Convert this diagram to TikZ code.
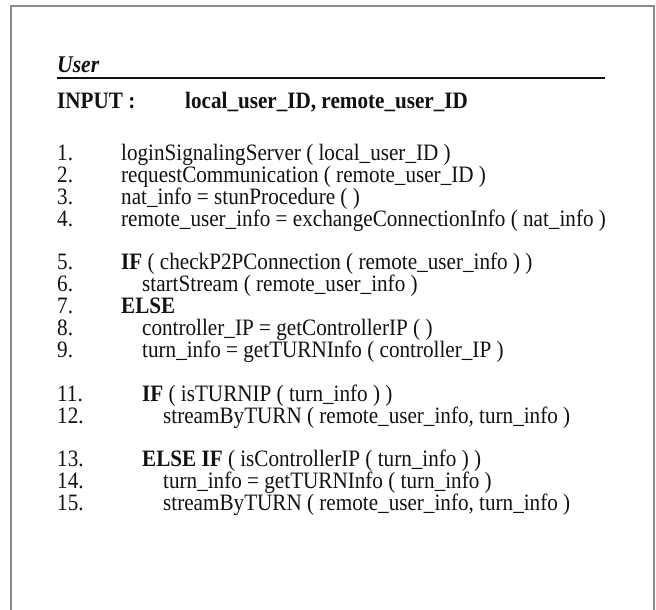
\documentclass[tikz,border=0pt]{standalone}
\usepackage{fontspec}
\setmainfont{Liberation Serif}[FakeStretch=0.9]
\usepackage{xcolor}
\definecolor{Frame}{HTML}{8A8A8A}
\definecolor{Ink}{HTML}{111111}
\tikzset{
 codetext/.style={anchor=base west, inner sep=0pt, text=Ink, font=\fontsize{23.5}{24}\selectfont},
 numtext/.style={codetext},
 keyword/.style={codetext, font=\fontsize{23.5}{24}\selectfont\bfseries},
 framerule/.style={draw=Frame, line width=1.2pt}
}
\newcommand{\us}{\_}
\begin{document}
\begin{tikzpicture}[x=1pt,y=-1pt]
\useasboundingbox (0,0) rectangle (656,610);
% frame, open at the bottom
\draw[framerule] (11,615) -- (11,6) -- (654,6) -- (654,615);
% heading
\node[codetext, font=\fontsize{24}{24}\selectfont\bfseries\itshape] (title) at (57,73) {User};
\coordinate (ruleL) at (57,78);
\coordinate (ruleR) at (605,78);
\draw[Ink, line width=1.6pt] (ruleL) -- (ruleR);
\node[keyword] (input) at (57,108) {INPUT :};
\node[keyword] (inputargs) at (185,108) {local\us user\us ID, remote\us user\us ID};
% steps 1-4
\node[numtext] (n1) at (57,160) {1.};
\node[codetext] (l1) at (121,160) {loginSignalingServer ( local\us user\us ID )};
\node[numtext] (n2) at (57,182) {2.};
\node[codetext] (l2) at (121,182) {requestCommunication ( remote\us user\us ID )};
\node[numtext] (n3) at (57,204) {3.};
\node[codetext] (l3) at (121,204) {nat\us info = stunProcedure ( )};
\node[numtext] (n4) at (57,226) {4.};
\node[codetext] (l4) at (121,226) {remote\us user\us info = exchangeConnectionInfo ( nat\us info )};
% steps 5-9
\node[numtext] (n5) at (57,269) {5.};
\node[codetext] (l5) at (121,269) {\textbf{IF} ( checkP2PConnection ( remote\us user\us info ) )};
\node[numtext] (n6) at (57,291) {6.};
\node[codetext] (l6) at (142,291) {startStream ( remote\us user\us info )};
\node[numtext] (n7) at (57,313) {7.};
\node[keyword] (l7) at (121,313) {ELSE};
\node[numtext] (n8) at (57,335) {8.};
\node[codetext] (l8) at (142,335) {controller\us IP = getControllerIP ( )};
\node[numtext] (n9) at (57,357) {9.};
\node[codetext] (l9) at (142,357) {turn\us info = getTURNInfo ( controller\us IP )};
% steps 11-12
\node[numtext] (n11) at (57,401) {11.};
\node[codetext] (l11) at (142,401) {\textbf{IF} ( isTURNIP ( turn\us info ) )};
\node[numtext] (n12) at (57,423) {12.};
\node[codetext] (l12) at (163,423) {streamByTURN ( remote\us user\us info, turn\us info )};
% steps 13-15
\node[numtext] (n13) at (57,466) {13.};
\node[codetext] (l13) at (142,466) {\textbf{ELSE IF} ( isControllerIP ( turn\us info ) )};
\node[numtext] (n14) at (57,488) {14.};
\node[codetext] (l14) at (163,488) {turn\us info = getTURNInfo ( turn\us info )};
\node[numtext] (n15) at (57,510) {15.};
\node[codetext] (l15) at (163,510) {streamByTURN ( remote\us user\us info, turn\us info )};
\end{tikzpicture}
\end{document}
